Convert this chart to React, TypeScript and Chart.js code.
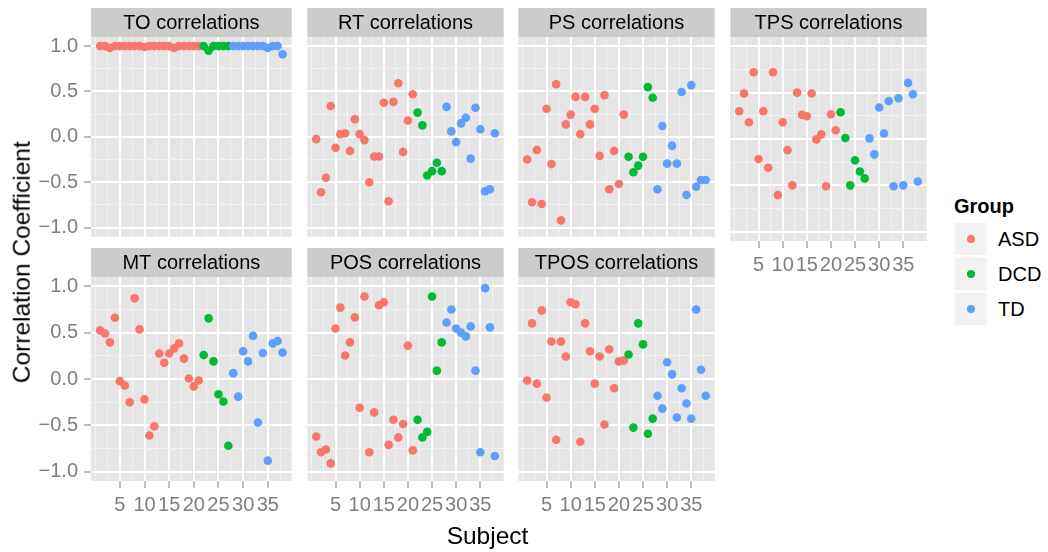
import React, { useEffect, useRef } from 'react';
import { Chart, registerables } from 'chart.js';

Chart.register(...registerables);

// ---------------- data ----------------
const SUBJECTS = [
  1, 2, 3, 4, 5, 6, 7, 8, 9, 10, 11, 12, 13, 14, 15, 16, 17, 18, 19, 20, 21,
  22, 23, 24, 25, 26, 27,
  28, 29, 30, 31, 32, 33, 34, 35, 36, 37, 38,
];
const SUBJECT_GROUPS = [
  'ASD', 'ASD', 'ASD', 'ASD', 'ASD', 'ASD', 'ASD', 'ASD', 'ASD', 'ASD', 'ASD',
  'ASD', 'ASD', 'ASD', 'ASD', 'ASD', 'ASD', 'ASD', 'ASD', 'ASD', 'ASD',
  'DCD', 'DCD', 'DCD', 'DCD', 'DCD', 'DCD',
  'TD', 'TD', 'TD', 'TD', 'TD', 'TD', 'TD', 'TD', 'TD', 'TD', 'TD',
];
const GROUP_NAMES = ['ASD', 'DCD', 'TD'];
const GROUP_COLORS = ['#F8766D', '#00BA38', '#619CFF'];

const TO_VALUES = [
  1.0, 1.0, 0.98, 1.0, 1.0, 1.0, 1.0, 1.0, 1.0, 0.99, 1.0, 1.0, 1.0, 1.0, 1.0, 0.98, 1.0, 1.0, 1.0, 1.0, 1.0,
  1.0, 0.95, 1.0, 1.0, 1.0, 1.0,
  1.0, 1.0, 1.0, 1.0, 1.0, 1.0, 1.0, 0.98, 1.0, 1.0, 0.91,
];
const RT_VALUES = [
  -0.025, -0.61, -0.45, 0.34, -0.12, 0.03, 0.04, -0.155, 0.195, 0.03, -0.036, -0.5, -0.216, -0.216, 0.375, -0.71, 0.385, 0.59, -0.166, 0.18, 0.47,
  0.267, 0.126, -0.425, -0.378, -0.285, -0.378,
  0.33, 0.06, -0.058, 0.148, 0.21, -0.24, 0.32, 0.083, -0.6, -0.577, 0.04,
];
const PS_VALUES = [
  -0.25, -0.72, -0.144, -0.74, 0.31, -0.3, 0.58, -0.92, 0.137, 0.245, 0.44, 0.03, 0.44, 0.137, 0.31, -0.21, 0.46, -0.577, -0.155, -0.52, 0.245,
  -0.22, -0.39, -0.317, -0.22, 0.548, 0.43,
  -0.577, 0.119, -0.295, -0.097, -0.295, 0.494, -0.64, 0.57, -0.55, -0.476, -0.476,
];
const TPS_VALUES = [
  0.3, 0.49, 0.18, 0.72, -0.216, 0.3, -0.31, 0.72, -0.605, 0.18, -0.12, -0.5, 0.5, 0.26, 0.245, 0.49, -0.004, 0.05, -0.51, 0.267, 0.094,
  0.288, 0.011, -0.5, -0.23, -0.35, -0.425,
  0.007, -0.166, 0.34, 0.06, 0.41, -0.51, 0.44, -0.5, 0.605, 0.483, -0.458,
];
const MT_VALUES = [
  0.524, 0.49, 0.395, 0.66, -0.023, -0.07, -0.25, 0.87, 0.535, -0.22, -0.61, -0.51, 0.275, 0.175, 0.275, 0.33, 0.384, 0.22, 0.005, -0.08, -0.016,
  0.258, 0.654, 0.19, -0.164, -0.243, -0.72,
  0.063, -0.19, 0.3, 0.19, 0.465, -0.47, 0.28, -0.88, 0.384, 0.41, 0.286,
];
const POS_VALUES = [
  -0.62, -0.79, -0.76, -0.91, 0.545, 0.77, 0.254, 0.395, 0.665, -0.31, 0.89, -0.79, -0.36, 0.795, 0.827, -0.71, -0.44, -0.63, -0.485, 0.36, -0.77,
  -0.44, -0.63, -0.57, 0.89, 0.09, 0.395,
  0.61, 0.75, 0.545, 0.5, 0.46, 0.567, 0.09, -0.79, 0.98, 0.557, -0.83,
];
const TPOS_VALUES = [
  -0.016, 0.6, -0.05, 0.74, -0.2, 0.405, -0.655, 0.405, 0.243, 0.827, 0.806, -0.676, 0.6, 0.3, -0.05, 0.243, -0.49, 0.32, -0.1, 0.19, 0.2,
  0.265, -0.524, 0.6, 0.373, -0.59, -0.427,
  -0.18, -0.32, 0.18, 0.05, -0.416, -0.1, -0.265, -0.427, 0.75, 0.1, -0.18,
];

const PANEL_TITLES = [
  'TO correlations', 'RT correlations', 'PS correlations', 'TPS correlations',
  'MT correlations', 'POS correlations', 'TPOS correlations',
];
const PANEL_VALUES = [TO_VALUES, RT_VALUES, PS_VALUES, TPS_VALUES, MT_VALUES, POS_VALUES, TPOS_VALUES];

const X_TICKS = [5, 10, 15, 20, 25, 30, 35];
const X_TICK_LABELS = ['5', '10', '15', '20', '25', '30', '35'];
const Y_TICKS = [-1, -0.5, 0, 0.5, 1];
const Y_TICK_LABELS = ['\u22121.0', '\u22120.5', '0.0', '0.5', '1.0'];

const X_TITLE = 'Subject';
const Y_TITLE = 'Correlation Coefficient';
const LEGEND_TITLE = 'Group';

// ---------------- layout / style ----------------
const FONT = '"Liberation Sans", Arial, Helvetica, sans-serif';
const COL_LEFT = [91, 303, 514, 726];
const ROW_TOP = [8, 248];
const PANEL_W = 205;
const PANEL_H = 204;
const STRIP_H = 29;
const Y_AXIS_W = 91;
const X_AXIS_H = 42;
const X_MIN = -0.85;
const X_MAX = 39.85;
const Y_MIN = -1.1;
const Y_MAX = 1.1;

const findIdx = (arr: number[], v: number) => arr.findIndex((t) => Math.abs(t - v) < 1e-6);

function panelPlugin(title: string) {
  return {
    id: 'ggpanel',
    beforeDraw(chart: any) {
      const { ctx, chartArea } = chart;
      ctx.save();
      ctx.fillStyle = '#E5E5E5';
      ctx.fillRect(chartArea.left, chartArea.top, chartArea.right - chartArea.left, chartArea.bottom - chartArea.top);
      ctx.fillStyle = '#CCCCCC';
      ctx.fillRect(chartArea.left, chartArea.top - STRIP_H, chartArea.right - chartArea.left, STRIP_H);
      ctx.fillStyle = '#000000';
      ctx.font = `20px ${FONT}`;
      ctx.textAlign = 'center';
      ctx.textBaseline = 'middle';
      ctx.fillText(title, (chartArea.left + chartArea.right) / 2, chartArea.top - STRIP_H / 2 + 0.5);
      ctx.restore();
    },
  };
}

function Panel({ index }: { index: number }) {
  const ref = useRef<HTMLCanvasElement>(null);
  const col = index % 4;
  const row = Math.floor(index / 4);
  const showY = col === 0;
  const showX = row === 1 || col === 3;
  const yw = showY ? Y_AXIS_W : 0;
  const xh = showX ? X_AXIS_H : 0;
  const W = yw + PANEL_W;
  const H = STRIP_H + PANEL_H + xh;
  const left = COL_LEFT[col] - yw;
  const top = ROW_TOP[row];

  useEffect(() => {
    const values = PANEL_VALUES[index];
    const datasets = GROUP_NAMES.map((g, gi) => ({
      label: g,
      data: SUBJECTS.map((s, i) => ({ x: s, y: values[i], g: SUBJECT_GROUPS[i] })).filter((p) => p.g === g),
      backgroundColor: GROUP_COLORS[gi],
      borderWidth: 0,
      pointRadius: 4.3,
      pointHoverRadius: 4.3,
      order: GROUP_NAMES.length - gi,
    }));
    const chart = new Chart(ref.current as HTMLCanvasElement, {
      type: 'scatter',
      data: { datasets: datasets as any },
      options: {
        responsive: false,
        animation: false,
        devicePixelRatio: 1,
        events: [],
        layout: { padding: { top: STRIP_H, left: 0, right: 0, bottom: 0 } },
        plugins: { legend: { display: false }, tooltip: { enabled: false } },
        scales: {
          x: {
            type: 'linear',
            position: 'bottom',
            min: X_MIN,
            max: X_MAX,
            border: { display: false },
            ticks: {
              stepSize: 2.5,
              includeBounds: false,
              autoSkip: false,
              maxRotation: 0,
              minRotation: 0,
              display: showX,
              padding: 5,
              color: '#7F7F7F',
              font: { family: FONT, size: 20 },
              callback: (v: any) => {
                const k = findIdx(X_TICKS, Number(v));
                return k >= 0 ? X_TICK_LABELS[k] : '';
              },
            },
            grid: {
              drawTicks: showX,
              tickLength: 7,
              tickWidth: 1,
              color: (c: any) => (c.tick && findIdx(X_TICKS, c.tick.value) >= 0 ? '#FFFFFF' : '#F2F2F2'),
              lineWidth: (c: any) => (c.tick && findIdx(X_TICKS, c.tick.value) >= 0 ? 2 : 1),
              tickColor: (c: any) => (c.tick && findIdx(X_TICKS, c.tick.value) >= 0 ? '#7F7F7F' : 'rgba(0,0,0,0)'),
            },
            afterFit: (s: any) => {
              s.height = xh;
              s.paddingLeft = 0;
              s.paddingRight = 0;
            },
          },
          y: {
            type: 'linear',
            position: 'left',
            min: Y_MIN,
            max: Y_MAX,
            border: { display: false },
            ticks: {
              stepSize: 0.25,
              includeBounds: false,
              autoSkip: false,
              display: showY,
              padding: 6,
              color: '#7F7F7F',
              font: { family: FONT, size: 20 },
              callback: (v: any) => {
                const k = findIdx(Y_TICKS, Number(v));
                return k >= 0 ? Y_TICK_LABELS[k] : '';
              },
            },
            grid: {
              drawTicks: showY,
              tickLength: 7,
              tickWidth: 1,
              color: (c: any) => (c.tick && findIdx(Y_TICKS, c.tick.value) >= 0 ? '#FFFFFF' : '#F2F2F2'),
              lineWidth: (c: any) => (c.tick && findIdx(Y_TICKS, c.tick.value) >= 0 ? 2 : 1),
              tickColor: (c: any) => (c.tick && findIdx(Y_TICKS, c.tick.value) >= 0 ? '#7F7F7F' : 'rgba(0,0,0,0)'),
            },
            afterFit: (s: any) => {
              s.width = yw;
              s.paddingTop = 0;
              s.paddingBottom = 0;
            },
          },
        },
      } as any,
      plugins: [panelPlugin(PANEL_TITLES[index])],
    });
    return () => chart.destroy();
  }, []);

  return (
    <canvas
      ref={ref}
      width={W}
      height={H}
      style={{ position: 'absolute', left, top, width: W, height: H }}
    />
  );
}

export default function App() {
  return (
    <div
      style={{
        position: 'absolute',
        left: 0,
        top: 0,
        width: 1048,
        height: 552,
        background: '#FFFFFF',
        overflow: 'hidden',
        fontFamily: FONT,
      }}
    >
      {PANEL_TITLES.map((t, i) => (
        <Panel key={t} index={i} />
      ))}
      {/* y axis title */}
      <div
        style={{
          position: 'absolute',
          left: 21.5 - 200,
          top: 262.5 - 12.25,
          width: 400,
          height: 24.5,
          lineHeight: '24.5px',
          fontSize: 24.5,
          textAlign: 'center',
          color: '#000',
          transform: 'rotate(-90deg)',
          transformOrigin: 'center center',
          whiteSpace: 'nowrap',
        }}
      >
        {Y_TITLE}
      </div>
      {/* x axis title */}
      <div
        style={{
          position: 'absolute',
          left: 0,
          top: 524.3,
          width: 975,
          height: 24.5,
          lineHeight: '24.5px',
          fontSize: 24.5,
          textAlign: 'center',
          color: '#000',
          whiteSpace: 'nowrap',
        }}
      >
        {X_TITLE}
      </div>
      {/* legend */}
      <div
        style={{
          position: 'absolute',
          left: 954,
          top: 196,
          height: 20,
          lineHeight: '20px',
          fontSize: 20,
          fontWeight: 'bold',
          color: '#000',
          whiteSpace: 'nowrap',
        }}
      >
        {LEGEND_TITLE}
      </div>
      {GROUP_NAMES.map((g, i) => (
        <React.Fragment key={g}>
          <div
            style={{
              position: 'absolute',
              left: 955,
              top: 223 + i * 35,
              width: 32,
              height: 32,
              background: '#F2F2F2',
            }}
          >
            <div
              style={{
                position: 'absolute',
                left: 16 - 4.3,
                top: 16 - 4.3,
                width: 8.6,
                height: 8.6,
                borderRadius: '50%',
                background: GROUP_COLORS[i],
              }}
            />
          </div>
          <div
            style={{
              position: 'absolute',
              left: 998,
              top: 223 + i * 35,
              height: 32,
              lineHeight: '32px',
              fontSize: 20,
              color: '#000',
              whiteSpace: 'nowrap',
            }}
          >
            {g}
          </div>
        </React.Fragment>
      ))}
    </div>
  );
}
